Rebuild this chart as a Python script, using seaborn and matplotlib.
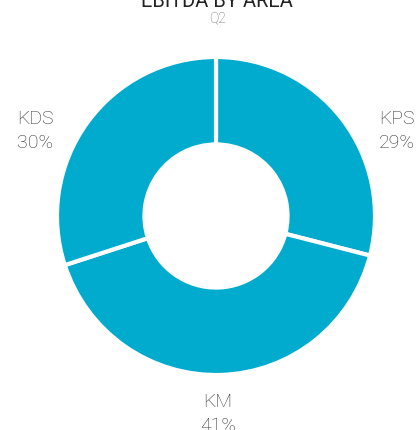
import matplotlib
matplotlib.use("Agg")
import matplotlib.pyplot as plt
import seaborn as sns

# EBITDA split by business area, Q2
areas = ["KPS", "KM", "KDS"]
shares = [29, 41, 30]

title = "EBITDA BY AREA"
subtitle = "Q2"

sns.set_theme(style="white")
plt.rcParams["font.family"] = ["Roboto", "DejaVu Sans"]

W, H = 419, 430
fig = plt.figure(figsize=(W / 100, H / 100), dpi=100)
ax = fig.add_axes([0, 0, 1, 1])

# donut geometry in pixels
cx, cy, R = 216, 216, 159

color = "#00ABCD"
wedges, _ = ax.pie(
    shares,
    startangle=90,
    counterclock=False,
    colors=[color] * len(shares),
    radius=1.0,
    wedgeprops=dict(width=0.55, edgecolor="white", linewidth=3),
)
ax.set_aspect("auto")
ax.set_xlim(-cx / R, (W - cx) / R)
ax.set_ylim(-(H - cy) / R, cy / R)
ax.axis("off")

# label anchors (pixel positions of label centres)
label_pos = {"KPS": (397, 131), "KM": (218, 414), "KDS": (35, 131)}
for name, val in zip(areas, shares):
    px, py = label_pos[name]
    ax.text((px - cx) / R, (cy - py) / R, f"{name}\n{val}%",
            ha="center", va="center", fontsize=14, color="#333333",
            fontweight="light", linespacing=1.4)

fig.text(217 / W, 1 - 7 / H, title, ha="center", va="baseline",
         fontsize=14.5, color="#222222", fontweight="normal")
fig.text(217 / W, 1 - 22 / H, subtitle, ha="center", va="baseline",
         fontsize=10, color="#666666", fontweight="light")

fig.savefig("out.png", dpi=100, facecolor="white")
